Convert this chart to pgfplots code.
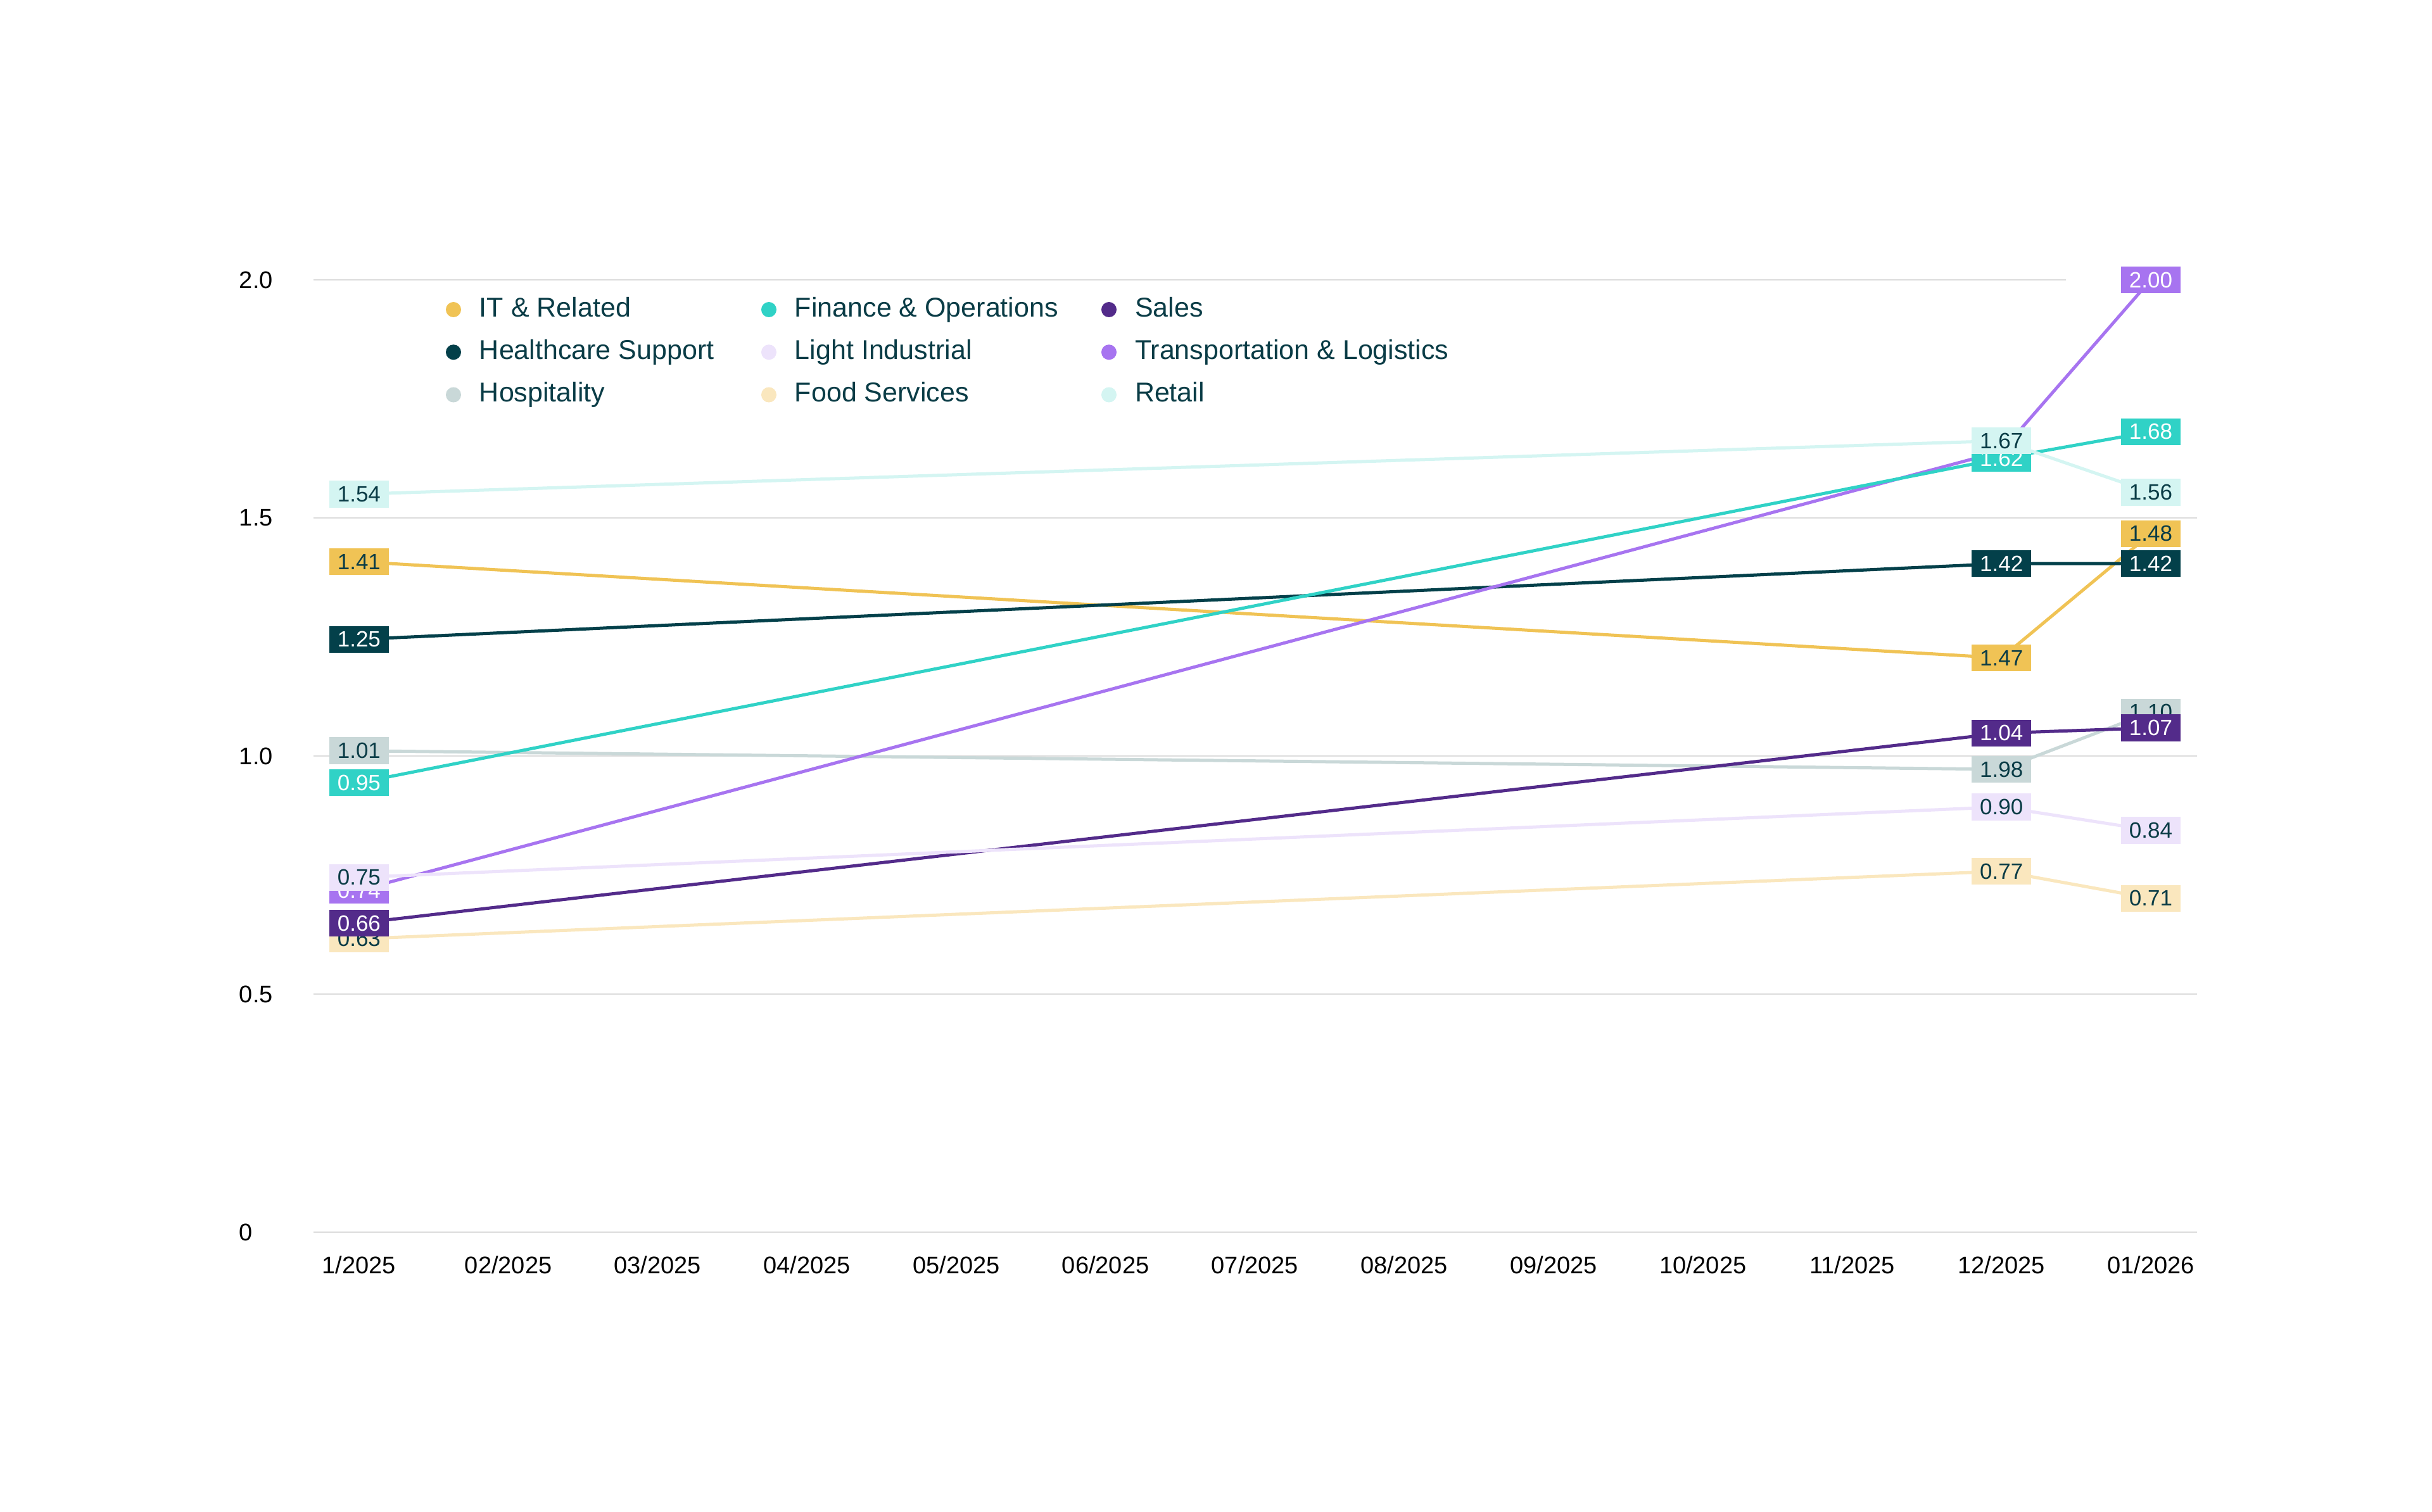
\documentclass[border=0pt]{standalone}
\usepackage{fontspec}
\setmainfont{Liberation Sans}
\usepackage{pgfplots}
\pgfplotsset{compat=1.18}

\definecolor{cIT}{HTML}{F0C355}
\definecolor{cFin}{HTML}{30D2C6}
\definecolor{cSales}{HTML}{532B8A}
\definecolor{cHealth}{HTML}{03404A}
\definecolor{cLight}{HTML}{EDE3FB}
\definecolor{cTrans}{HTML}{A774F0}
\definecolor{cHosp}{HTML}{C9D8D8}
\definecolor{cFood}{HTML}{FAE7BE}
\definecolor{cRetail}{HTML}{D4F5F2}
\definecolor{darktxt}{HTML}{0A3C46}
\definecolor{gridc}{HTML}{DCDCDC}

% one line series with boxed value labels
\pgfplotsset{
  series/.style 2 args={
    color=#1, line width=1pt, mark=none, forget plot,
    nodes near coords, point meta=explicit symbolic,
    every node near coord/.append style={anchor=center, fill=#1, text=#2,
      minimum width=18.8pt, minimum height=8.5pt, inner sep=0pt,
      font=\fontsize{7}{8}\selectfont},
  },
}

\begin{document}
\begin{tikzpicture}
\begin{axis}[
  scale only axis, width=594.8pt, height=300.8pt,
  xmin=-0.305, xmax=12.31, ymin=0, ymax=2,
  clip=false,
  axis line style={draw=none},
  major tick length=0pt,
  xtick={0,...,12},
  xticklabels={1/2025,02/2025,03/2025,04/2025,05/2025,06/2025,07/2025,08/2025,09/2025,10/2025,11/2025,12/2025,01/2026},
  ytick={0,0.5,1,1.5},
  yticklabels={0,0.5,1.0,1.5},
  extra y ticks={2}, extra y tick labels={2.0},
  extra y tick style={grid=none},
  ymajorgrids,
  grid style={color=gridc, line width=0.5pt},
  /pgf/number format/assume math mode=true,
  tick label style={font=\fontsize{7.6}{9}\selectfont, text=black, inner sep=0pt},
  yticklabel style={anchor=west, xshift=-23.6pt},
  xticklabel style={anchor=base, yshift=-13.1pt},
  legend image code/.code={\fill[#1] (0pt,0pt) circle (2.2pt);},
  legend columns=3,
  legend style={at={(0,1)}, anchor=north west, xshift=41.8pt, yshift=-5.3pt,
    draw=none, fill=none, inner sep=0pt, outer sep=0pt,
    column sep=0pt, row sep=5.25pt,
    nodes={inner sep=0pt, anchor=west, text height=6.3pt, text depth=1.9pt,
      text=darktxt, font=\fontsize{8.6}{10}\selectfont}},
]
\coordinate (sw) at (rel axis cs:0,0);
\coordinate (ne) at (rel axis cs:1,1);
\draw[gridc, line width=0.5pt] (rel axis cs:0,1) -- (axis cs:11.43,2);

\addplot[series={cIT}{darktxt}] coordinates {(0,1.408) [1.41] (11,1.206) [1.47] (12,1.467) [1.48]};
\addplot[series={cHealth}{white}] coordinates {(0,1.245) [1.25] (11,1.404) [1.42] (12,1.404) [1.42]};
\addplot[series={cFood}{darktxt}] coordinates {(0,0.616) [0.63] (11,0.758) [0.77] (12,0.701) [0.71]};
\addplot[series={cHosp}{darktxt}] coordinates {(0,1.011) [1.01] (11,0.972) [1.98] (12,1.092) [1.10]};
\addplot[series={cSales}{white}] coordinates {(0,0.649) [0.66] (11,1.048) [1.04] (12,1.059) [1.07]};
\addplot[series={cTrans}{white}] coordinates {(0,0.718) [0.74] (11,1.640) [1.64] (12,2.000) [2.00]};
\addplot[series={cLight}{darktxt}] coordinates {(0,0.745) [0.75] (11,0.893) [0.90] (12,0.844) [0.84]};
\addplot[series={cFin}{white}] coordinates {(0,0.944) [0.95] (11,1.625) [1.62] (12,1.681) [1.68]};
\addplot[series={cRetail}{darktxt}] coordinates {(0,1.550) [1.54] (11,1.662) [1.67] (12,1.554) [1.56]};

\addlegendimage{cIT}\addlegendentry{\hspace*{5.8pt}\makebox[89pt][l]{IT \& Related}}
\addlegendimage{cFin}\addlegendentry{\hspace*{5.8pt}\makebox[96.8pt][l]{Finance \& Operations}}
\addlegendimage{cSales}\addlegendentry{\hspace*{5.8pt}Sales}
\addlegendimage{cHealth}\addlegendentry{\hspace*{5.8pt}\makebox[89pt][l]{Healthcare Support}}
\addlegendimage{cLight}\addlegendentry{\hspace*{5.8pt}\makebox[96.8pt][l]{Light Industrial}}
\addlegendimage{cTrans}\addlegendentry{\hspace*{5.8pt}Transportation \& Logistics}
\addlegendimage{cHosp}\addlegendentry{\hspace*{5.8pt}\makebox[89pt][l]{Hospitality}}
\addlegendimage{cFood}\addlegendentry{\hspace*{5.8pt}\makebox[96.8pt][l]{Food Services}}
\addlegendimage{cRetail}\addlegendentry{\hspace*{5.8pt}Retail}
\end{axis}
\path ([shift={(-99pt,-88.2pt)}]sw) rectangle ([shift={(74.2pt,88.4pt)}]ne);
\end{tikzpicture}
\end{document}
